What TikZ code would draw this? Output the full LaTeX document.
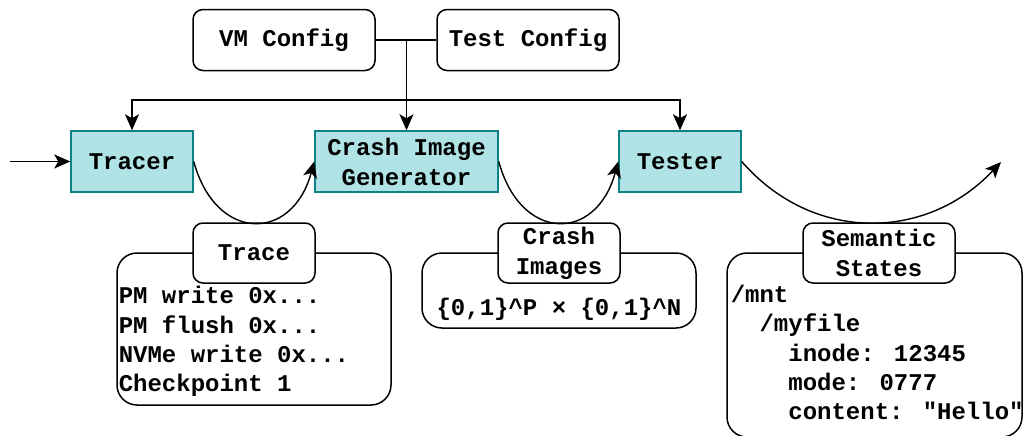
\documentclass[tikz,border=0pt]{standalone}
\usepackage{fontspec}
\newfontfamily\codefont{Liberation Mono}
\usetikzlibrary{arrows.meta}
\definecolor{stagefill}{HTML}{B0E3E6}
\definecolor{stageline}{HTML}{0E8088}
\tikzset{
  base/.style={font=\codefont\bfseries\fontsize{12}{15}\selectfont, line width=0.75pt, align=center, inner sep=0pt},
  cfgbox/.style={base, draw, rounded corners=5pt, minimum width=91pt, minimum height=30.5pt},
  stage/.style={base, draw=stageline, fill=stagefill, minimum height=30.5pt},
  lblbox/.style={base, draw, fill=white, rounded corners=5pt, minimum height=30pt},
  databox/.style={base, draw, rounded corners=10pt},
  datatext/.style={base, align=left, font=\codefont\bfseries\fontsize{12}{14.6}\selectfont},
  flow/.style={line width=0.7pt, -{Stealth[length=8pt, width=7pt, inset=2pt]}},
  link/.style={line width=0.7pt}
}
\begin{document}
\begin{tikzpicture}[x=0.5pt, y=-0.5pt]
  \useasboundingbox (0,0) rectangle (1025,435);
  \clip (0,0) rectangle (1025,435);
  % configs
  \node[cfgbox] (vmcfg) at (284,40) {VM Config};
  \node[cfgbox] (testcfg) at (528,40) {Test Config};
  % stages
  \node[stage, minimum width=61pt] (tracer) at (132,161.5) {Tracer};
  \node[stage, minimum width=91.5pt] (gen) at (406.5,161.5) {Crash Image\\Generator};
  \node[stage, minimum width=61pt] (tester) at (680,161.5) {Tester};
  \coordinate (in) at (10,161.5);
  \coordinate (out) at (1001,162);
  % data boxes
  \node[databox, minimum width=137pt, minimum height=76pt] (tracebox) at (254,329) {};
  \node[databox, minimum width=137pt, minimum height=37.5pt] (imgbox) at (559,290.5) {};
  \node[databox, minimum width=147.5pt, minimum height=92pt] (statebox) at (874.5,345) {};
  \node[lblbox, minimum width=61pt] (tracelbl) at (254,253) {Trace};
  \node[lblbox, minimum width=61pt] (imglbl) at (559,253) {Crash\\Images};
  \node[lblbox, minimum width=76pt] (statelbl) at (879,253) {Semantic\\States};
  \node[datatext, anchor=west] (tracetxt) at (118,341.5)
    {PM write 0x...\\PM flush 0x...\\NVMe write 0x...\\Checkpoint 1};
  \node[datatext] (imgtxt) at (559,309) {\{0,1\}\^{}P × \{0,1\}\^{}N};
  \node[datatext, anchor=west] (statetxt) at (730,352.5)
    {/mnt\\\hspace{14.4pt}/myfile\\\hspace{28.8pt}inode: 12345\\\hspace{28.8pt}mode: 0777\\\hspace{28.8pt}content: "Hello"};
  % config links
  \coordinate (join) at (406.5,40);
  \coordinate (bus) at (406.5,100);
  \draw[link] (vmcfg.east) -- (testcfg.west);
  \draw[flow] (join) -- (gen.north);
  \draw[flow] (bus) -| (tracer.north);
  \draw[flow] (bus) -| (tester.north);
  % pipeline
  \draw[flow] (in) -- (tracer.west);
  \draw[flow] (tracer.east) .. controls +(22,81) and +(-22,81) .. (gen.west);
  \draw[flow] (gen.east) .. controls +(22,81) and +(-22,81) .. (tester.west);
  \draw[flow] (tester.east) .. controls +(70,81) and +(-75,80) .. (out);
\end{tikzpicture}
\end{document}
